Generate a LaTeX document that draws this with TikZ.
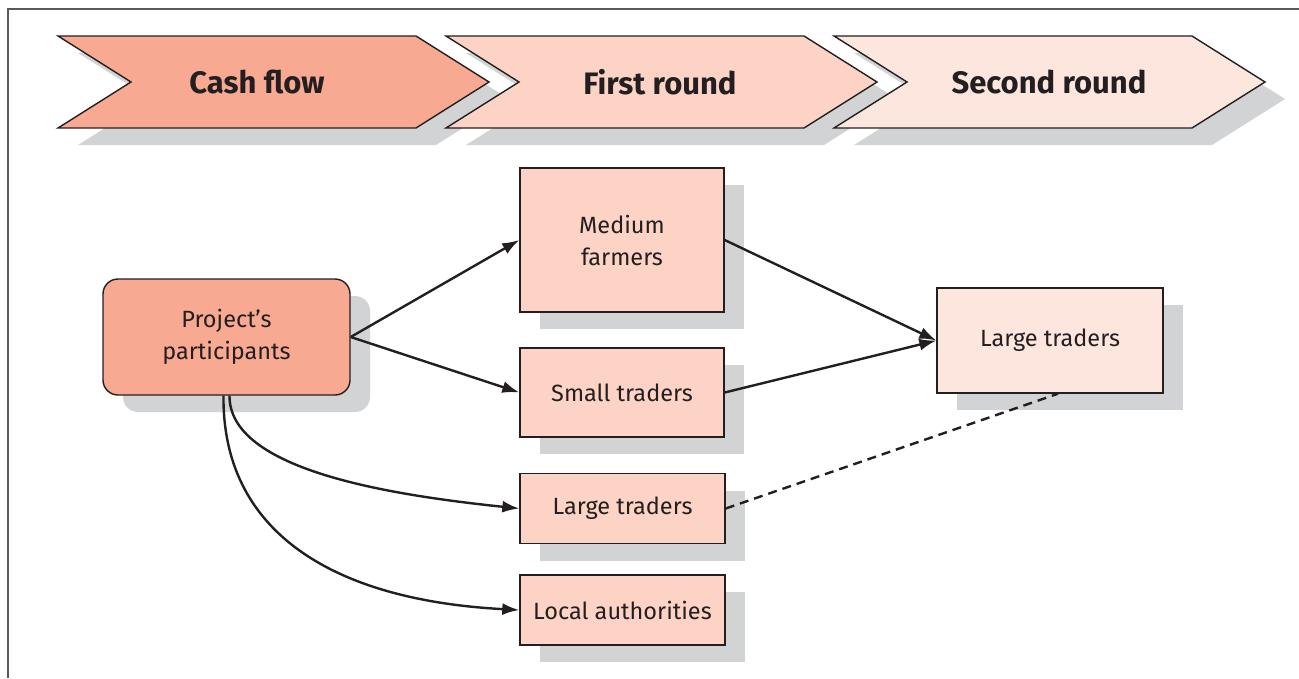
\documentclass[tikz,border=0pt]{standalone}
\usepackage{fontspec}
\setsansfont{Fira Sans}
\usetikzlibrary{arrows.meta,shadows}
\definecolor{salmon}{HTML}{F7A992}
\definecolor{peach}{HTML}{FCD3C5}
\definecolor{blush}{HTML}{FDE6DE}
\definecolor{shade}{HTML}{D1D3D4}
\definecolor{ink}{HTML}{231F20}
\definecolor{rim}{HTML}{58595B}
\begin{document}
\begin{tikzpicture}[x=1pt, y=-1pt,
   sh/.style={drop shadow={shadow xshift=20pt, shadow yshift=-17pt, fill=shade, opacity=1}},
   chev/.style={draw=ink, line width=1.4pt, sh},
   head/.style={font=\sffamily\bfseries\fontsize{31}{36}\selectfont, text=ink},
   box/.style={draw=ink, line width=1.4pt, fill=peach, sh, inner sep=0pt, align=center,
               font=\sffamily\fontsize{23.5}{32}\selectfont, text=ink},
   flow/.style={draw=ink, line width=2.4pt, -{Latex[length=17pt,width=12pt]}}]
 \useasboundingbox (0,0) rectangle (1299,678);
 \draw [rim, line width=2pt] (8,678) -- (8,9) -- (1299,9);
 % header arrows
 \foreach \x/\col in {58/salmon, 446/peach, 834/blush}
   \draw [chev, fill=\col] (\x,36) -- (\x+358,36) -- (\x+431,82) -- (\x+358,128)
        -- (\x,128) -- (\x+73,82) -- cycle;
 \node (cash) [head] at (257,82) {Cash flow};
 \node (first) [head] at (660,82) {First round};
 \node (second) [head] at (1049,82) {Second round};
 % boxes
 \node (part) [box, fill=salmon, rounded corners=15pt, minimum width=247pt, minimum height=116pt] at (226.5,337) {Project's\\participants};
 \node (medium) [box, minimum width=204pt, minimum height=144pt] at (622,240) {Medium\\farmers};
 \node (small) [box, minimum width=204pt, minimum height=89pt] at (622,392.5) {Small traders};
 \node (largeA) [box, minimum width=205pt, minimum height=70pt] at (622.5,508.5) {Large traders};
 \node (local) [box, minimum width=205pt, minimum height=70pt] at (622.5,610) {Local authorities};
 \node (largeB) [box, fill=blush, minimum width=226pt, minimum height=105pt] at (1050,340.5) {Large traders};
 % links
 \draw [flow] (part.east) -- (medium.west);
 \draw [flow] (part.east) -- (small.west);
 \draw [flow] (medium.east) -- (largeB.west);
 \draw [flow] (small.east) -- (largeB.west);
 \draw [flow] ([xshift=3pt]part.south) .. controls (229,470) and (390,495) .. (largeA.west);
 \draw [flow] ([xshift=-3pt]part.south) .. controls (222,530) and (330,600) .. (local.west);
 \draw [ink, line width=2.4pt, dash pattern=on 9pt off 6pt] (largeA.east) -- ([xshift=8pt]largeB.south);
\end{tikzpicture}
\end{document}
